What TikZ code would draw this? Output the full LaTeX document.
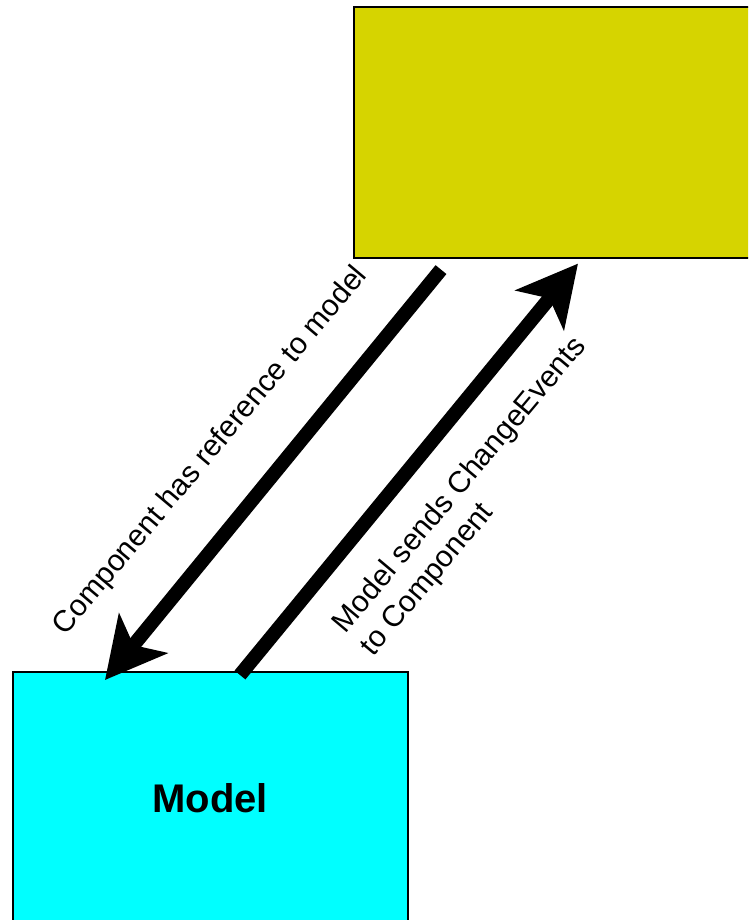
\documentclass[tikz,border=0pt]{standalone}
\usepackage{fontspec}
\setmainfont{Liberation Sans}
\usetikzlibrary{arrows.meta}
\definecolor{compyellow}{RGB}{214,212,0}
\definecolor{modelcyan}{RGB}{0,255,255}
\begin{document}
\begin{tikzpicture}[x=1pt,y=1pt,
  boxstyle/.style={draw=black,line width=1.6pt,rectangle,inner sep=0pt},
  bigarrow/.style={line width=14pt,-{Stealth[length=60pt,width=62pt,inset=15pt]}},
  lbl/.style={font=\fontsize{30}{36}\selectfont,inner sep=0pt,rotate=50}]
\useasboundingbox (0,0) rectangle (748,-920);
\clip (0,0) rectangle (748,-920);
\node[boxstyle,fill=compyellow,minimum width=420pt,minimum height=251pt,anchor=north west] (comp) at (353,-6) {};
\node[boxstyle,fill=modelcyan,minimum width=395pt,minimum height=252pt,anchor=north west] (model) at (12,-671) {};
\node[font=\bfseries\fontsize{40}{44}\selectfont] (modeltext) at (model.center) {Model};
\coordinate (a1s) at ([shift={(88,-11)}]comp.south west);
\coordinate (a1e) at ([shift={(93,-9)}]model.north west);
\coordinate (a2s) at ([shift={(228,-4)}]model.north west);
\coordinate (a2e) at ([shift={(225,-5)}]comp.south west);
\draw[bigarrow] (a1s) -- (a1e);
\draw[bigarrow] (a2s) -- (a2e);
\node[lbl] (l1) at (211,-451) {Component has reference to model};
\node[lbl,align=left] (l2) at (474,-497) {Model sends ChangeEvents\\to Component};
\end{tikzpicture}
\end{document}
